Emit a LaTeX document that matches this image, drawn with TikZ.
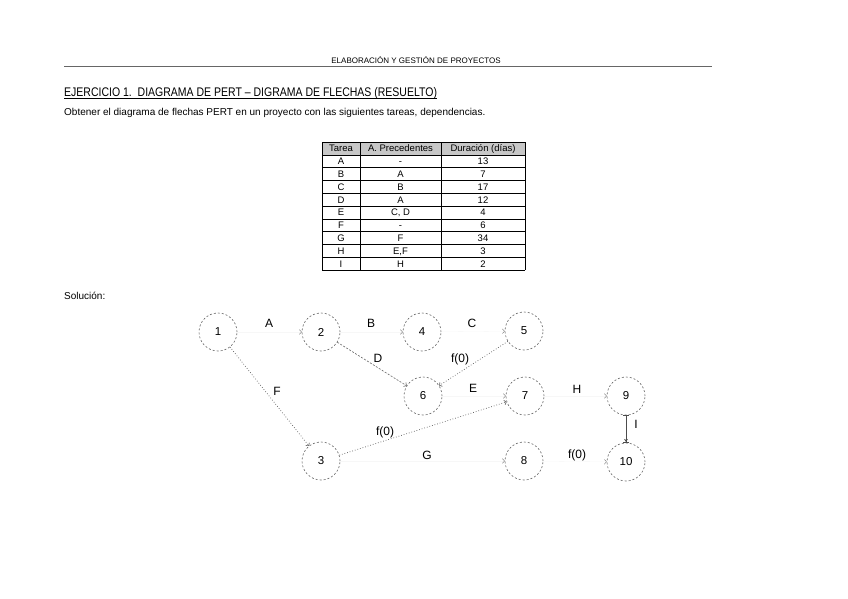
\documentclass[tikz,border=0pt]{standalone}
\usepackage{fontspec}
\setmainfont{Liberation Sans}
\newfontfamily\narrowsans[FakeStretch=0.84]{Liberation Sans}
\usetikzlibrary{arrows.meta}
\begin{document}
\begin{tikzpicture}[x=1pt,y=-1pt,
  pnode/.style={circle, draw=black!60, dash pattern=on 2pt off 2pt, line width=0.6pt,
    minimum size=38pt, inner sep=0pt, font=\fontsize{11.5}{11.5}\selectfont},
  lbl/.style={font=\fontsize{12}{12}\selectfont, inner sep=0pt},
  tip/.style={-{To[length=2.5pt,width=5pt,color=black!60]}},
  hidden/.style={tip, draw=black!3, line width=0.3pt},
  dotline/.style={tip, draw=black!65, dotted, line width=0.7pt},
  dashline/.style={tip, draw=black!60, dash pattern=on 2pt off 1.5pt, line width=0.6pt},
  cell/.style={inner sep=0pt, font=\fontsize{9.5}{9.5}\selectfont, anchor=base},
  txt/.style={inner sep=0pt, anchor=base west}
]
\useasboundingbox[fill=white] (0,0) rectangle (848,599);

% header
\node[inner sep=0pt, anchor=base, font=\fontsize{8}{8}\selectfont] (header) at (416,63.5) {ELABORACIÓN Y GESTIÓN DE PROYECTOS};
\draw[black!60, line width=0.8pt] (64,66) -- (712,66);

% title
\node[txt, font=\fontsize{12.5}{12.5}\narrowsans] (title) at (64,97)
  {EJERCICIO 1.\ \ DIAGRAMA DE PERT – DIGRAMA DE FLECHAS (RESUELTO)};
\draw[line width=0.6pt] ([yshift=-1.8pt]title.base west) -- ([yshift=-1.8pt]title.base east);
\node[txt, font=\fontsize{10}{10}\selectfont] (subtitle) at (64,116)
  {Obtener el diagrama de flechas PERT en un proyecto con las siguientes tareas, dependencias.};

% table
\fill[black!22] (322,142) rectangle (525,154.8);
\foreach \i in {0,...,10} {
  \pgfmathsetmacro{\yy}{142+12.8*\i}
  \draw[line width=0.5pt] (322,\yy) -- (525,\yy);
}
\foreach \xx in {322,360,441,525} \draw[line width=0.5pt] (\xx,142) -- (\xx,270);
\foreach \t/\p/\d [count=\r] in {Tarea/A. Precedentes/Duración (días), A/-/13, B/A/7, C/B/17,
    D/A/12, E/{C, D}/4, F/-/6, G/F/34, H/{E,F}/3, I/H/2} {
  \pgfmathsetmacro{\yb}{142+12.8*(\r-1)+9.8}
  \node[cell] (cell-\r-1) at (341,\yb) {\t};
  \node[cell] (cell-\r-2) at (400.5,\yb) {\p};
  \node[cell] (cell-\r-3) at (483,\yb) {\d};
}

\node[txt, font=\fontsize{10}{10}\selectfont] (sol) at (64,299) {Solución:};

% event nodes
\node[pnode] (n1) at (218,332) {1};
\node[pnode] (n2) at (321,332) {2};
\node[pnode] (n4) at (422,332) {4};
\node[pnode] (n5) at (524,331) {5};
\node[pnode] (n6) at (423,396) {6};
\node[pnode] (n7) at (525,396) {7};
\node[pnode] (n9) at (626,396) {9};
\node[pnode] (n3) at (321,461) {3};
\node[pnode] (n8) at (524,461) {8};
\node[pnode] (n10) at (626,462) {10};

% connectors
\draw[hidden] (n1) -- (n2);
\draw[hidden] (n2) -- (n4);
\draw[hidden] (n4) -- (n5);
\draw[hidden] (n6) -- (n7);
\draw[hidden] (n7) -- (n9);
\draw[hidden] (n3) -- (n8);
\draw[hidden] (n8) -- (n10);
\draw[dotline] (n1) -- (n3);
\draw[dashline] (n2) -- (n6);
\draw[dotline] (n5) -- (n6);
\draw[dotline] (n3) -- (n7);
\draw[black!70, line width=0.8pt, {Bar[width=6pt]}-{Stealth[length=3pt,width=4pt] Bar[width=6pt]}] (n9) -- (n10);

% activity labels
\node[lbl] (lA) at (269,323) {A};
\node[lbl] (lB) at (371,323) {B};
\node[lbl] (lC) at (472,323) {C};
\node[lbl] (lD) at (378,358) {D};
\node[lbl] (lf1) at (460,359) {f(0)};
\node[lbl] (lE) at (473,388) {E};
\node[lbl] (lH) at (577,389) {H};
\node[lbl] (lF) at (277,391) {F};
\node[lbl] (lf2) at (385,432) {f(0)};
\node[lbl] (lG) at (427,455) {G};
\node[lbl] (lf3) at (577,455) {f(0)};
\node[lbl] (lI) at (636,424) {I};
\end{tikzpicture}
\end{document}
